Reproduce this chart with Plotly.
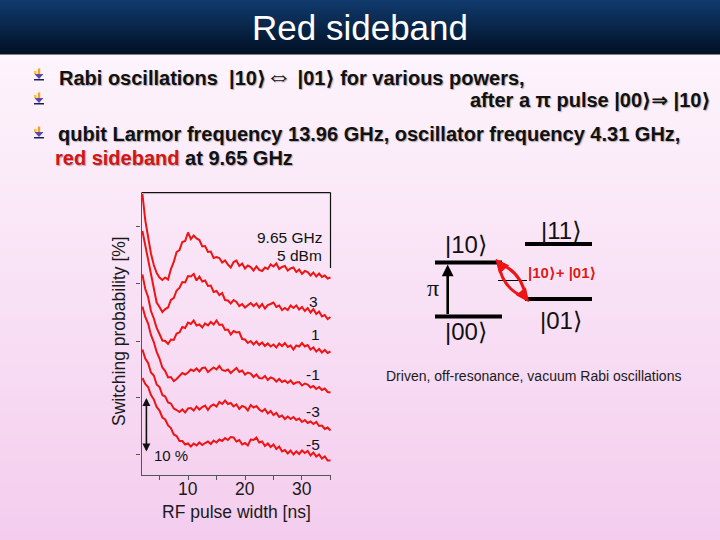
import plotly.graph_objects as go

# ---------------- data ----------------
pulse_ns = [2.0, 2.5, 3.0, 3.5, 4.0, 4.5, 5.0, 5.5, 6.0, 6.5,
            7.0, 7.5, 8.0, 8.5, 9.0, 9.5, 10.0, 10.5, 11.0, 11.5,
            12.0, 12.5, 13.0, 13.5, 14.0, 14.5, 15.0, 15.5, 16.0, 16.5,
            17.0, 17.5, 18.0, 18.5, 19.0, 19.5, 20.0, 20.5, 21.0, 21.5,
            22.0, 22.5, 23.0, 23.5, 24.0, 24.5, 25.0, 25.5, 26.0, 26.5,
            27.0, 27.5, 28.0, 28.5, 29.0, 29.5, 30.0, 30.5, 31.0, 31.5,
            32.0, 32.5, 33.0, 33.5, 34.0, 34.5, 35.0]

# switching probability (%, curves offset vertically as in the figure)
p_5dBm = [56.2, 51.0, 47.6, 44.3, 42.0, 40.4, 39.5, 39.0, 39.5, 39.1,
          41.2, 42.6, 44.6, 45.0, 46.6, 46.8, 48.5, 47.2, 47.9, 47.3,
          47.0, 45.7, 45.8, 44.6, 44.7, 43.4, 43.6, 43.4, 42.5, 42.9,
          42.1, 41.5, 42.6, 42.9, 41.8, 42.3, 41.3, 41.9, 41.6, 40.9,
          41.7, 41.0, 40.8, 41.5, 41.2, 42.1, 41.7, 42.3, 41.2, 41.6,
          41.8, 40.9, 41.3, 41.5, 40.6, 41.1, 40.2, 40.8, 40.6, 39.9,
          40.5, 39.7, 40.3, 39.6, 39.9, 39.3, 39.5]
p_3dBm = [48.8, 45.8, 43.6, 39.8, 37.0, 34.5, 33.6, 32.6, 33.2, 33.5,
          35.0, 35.4, 36.9, 37.4, 38.6, 38.5, 39.8, 39.7, 40.2, 38.9,
          39.7, 38.7, 38.9, 37.8, 37.9, 36.6, 36.8, 36.0, 36.4, 35.0,
          34.9, 34.3, 35.0, 34.6, 33.8, 34.2, 33.5, 33.9, 34.4, 33.8,
          34.3, 33.5, 34.2, 33.3, 34.0, 34.2, 34.5, 33.6, 33.9, 33.0,
          33.4, 33.0, 33.9, 33.4, 33.9, 33.1, 33.6, 32.8, 33.4, 32.5,
          33.2, 32.2, 32.7, 31.7, 32.0, 31.2, 31.6]
p_1dBm = [40.1, 37.2, 35.6, 32.8, 31.3, 29.4, 28.2, 26.9, 26.8, 26.2,
          27.1, 27.0, 28.3, 28.5, 29.6, 29.4, 30.5, 30.2, 30.9, 29.9,
          30.1, 29.5, 30.3, 29.9, 30.6, 30.1, 30.9, 30.0, 30.1, 29.0,
          29.1, 28.1, 28.8, 28.5, 28.6, 27.2, 27.1, 26.4, 26.8, 26.1,
          26.7, 26.0, 26.5, 25.8, 26.3, 25.7, 26.1, 25.5, 26.3, 25.8,
          26.4, 25.6, 25.9, 25.1, 25.9, 25.7, 26.4, 25.7, 26.0, 25.1,
          25.5, 24.7, 25.2, 24.5, 25.0, 24.4, 24.7]
p_m1dBm = [33.7, 31.6, 30.3, 28.0, 26.6, 24.6, 23.3, 21.5, 20.8, 19.5,
           19.6, 18.8, 19.2, 19.9, 20.4, 20.1, 20.5, 21.1, 20.8, 21.3,
           20.7, 21.4, 21.5, 20.6, 21.0, 21.5, 21.1, 21.8, 21.0, 20.8,
           21.1, 20.4, 20.9, 21.4, 20.6, 20.9, 20.1, 20.5, 20.3, 19.6,
           20.1, 19.4, 19.3, 19.8, 19.0, 19.5, 19.3, 18.7, 19.2, 18.6,
           18.9, 18.4, 18.9, 18.2, 18.5, 18.6, 17.9, 18.3, 18.1, 17.5,
           17.8, 17.2, 17.6, 17.0, 17.3, 16.6, 16.5]
p_m3dBm = [25.1, 23.3, 22.4, 20.5, 19.9, 18.1, 17.6, 16.0, 15.7, 14.5,
           14.3, 13.3, 13.0, 12.6, 13.1, 12.5, 13.3, 13.4, 12.9, 13.7,
           13.1, 13.6, 13.9, 13.0, 13.8, 14.1, 13.7, 14.6, 14.2, 14.9,
           14.2, 14.4, 13.7, 14.1, 13.2, 13.8, 13.6, 12.9, 14.0, 13.5,
           13.8, 13.1, 12.7, 13.2, 12.3, 12.8, 12.0, 12.4, 11.6, 11.9,
           11.2, 11.7, 11.2, 11.6, 11.0, 11.3, 10.6, 11.0, 10.4, 10.7,
           10.2, 10.6, 9.8, 9.9, 9.2, 9.5, 8.9]
p_m5dBm = [19.4, 18.2, 17.6, 16.0, 15.1, 13.6, 12.9, 11.5, 11.1, 9.9,
           9.4, 8.1, 7.8, 6.8, 6.8, 6.1, 6.3, 5.7, 6.3, 5.9,
           6.5, 6.0, 6.4, 6.7, 6.2, 6.9, 6.5, 7.1, 6.8, 7.4,
           7.0, 7.6, 7.5, 6.7, 7.0, 6.1, 6.4, 5.9, 7.1, 7.0,
           7.5, 6.5, 6.7, 5.8, 6.3, 5.6, 6.1, 5.2, 5.7, 4.7,
           5.0, 4.3, 4.9, 4.1, 4.7, 4.2, 4.9, 4.4, 4.8, 3.9,
           4.5, 3.7, 4.1, 3.3, 3.7, 2.9, 2.9]

series = [p_5dBm, p_3dBm, p_1dBm, p_m1dBm, p_m3dBm, p_m5dBm]
power_labels = ["3", "1", "-1", "-3", "-5"]
x_tick_vals = [5, 10, 15, 20, 25, 30, 35]
x_label_vals = [10, 20, 30]
x_label_text = ["10", "20", "30"]
y_tick_vals = [4.2, 15.6, 26.8, 38.4, 49.8]

# ---------------- helpers (pixel -> paper) ----------------
W, H = 720, 540
def P(px):
    return px / W
def Q(py):
    return 1 - py / H

SANS = "Liberation Sans, Arial, DejaVu Sans, sans-serif"
RED = "#ee1414"

fig = go.Figure()
for ys in series:
    fig.add_trace(go.Scatter(x=pulse_ns, y=ys, mode="lines",
                             line=dict(color=RED, width=2),
                             hoverinfo="skip", showlegend=False))

shapes = []
# background gradient
N = 60
top_c = (253, 244, 252)
bot_c = (244, 205, 238)
y_start = 54
for i in range(N):
    t = i / (N - 1)
    c = tuple(int(round(top_c[k] + (bot_c[k] - top_c[k]) * t)) for k in range(3))
    y0 = y_start + i * (H - y_start) / N
    y1 = y_start + (i + 1) * (H - y_start) / N + 0.6
    shapes.append(dict(type="rect", xref="paper", yref="paper", layer="below",
                       x0=0, x1=1, y0=Q(y1), y1=Q(y0), line=dict(width=0),
                       fillcolor="rgb(%d,%d,%d)" % c))
# title bar gradient
NT = 27
tb_top = (16, 58, 108)
tb_bot = (2, 17, 38)
for i in range(NT):
    t = i / (NT - 1)
    c = tuple(int(round(tb_top[k] + (tb_bot[k] - tb_top[k]) * t)) for k in range(3))
    y0 = i * 54 / NT
    y1 = (i + 1) * 54 / NT + 0.5
    shapes.append(dict(type="rect", xref="paper", yref="paper", layer="below",
                       x0=0, x1=1, y0=Q(y1), y1=Q(y0), line=dict(width=0),
                       fillcolor="rgb(%d,%d,%d)" % c))

# bullet icons
def bullet(cy, cx=39):
    out = []
    out.append(dict(type="rect", xref="paper", yref="paper", x0=P(cx - 1.2), x1=P(cx + 1.2),
                    y0=Q(cy - 0.5), y1=Q(cy - 6.5), fillcolor="#f2a22a", line=dict(width=0)))
    out.append(dict(type="rect", xref="paper", yref="paper", x0=P(cx - 5), x1=P(cx - 2.5),
                    y0=Q(cy - 1), y1=Q(cy - 4), fillcolor="#f5c040", line=dict(width=0)))
    out.append(dict(type="path", xref="paper", yref="paper",
                    path="M %f,%f L %f,%f L %f,%f Z" % (P(cx - 4.5), Q(cy - 1), P(cx + 4.5), Q(cy - 1),
                                                          P(cx), Q(cy + 4)),
                    fillcolor="#5a4aa8", line=dict(width=0)))
    out.append(dict(type="rect", xref="paper", yref="paper", x0=P(cx - 5), x1=P(cx + 5),
                    y0=Q(cy + 5.5), y1=Q(cy + 4), fillcolor="#1c1c5c", line=dict(width=0)))
    return out

for cy in (75, 99, 133):
    shapes += bullet(cy)

# plot frame (top and partial right border)
shapes.append(dict(type="line", xref="paper", yref="paper", x0=P(141.5), x1=P(330.5),
                   y0=Q(192.6), y1=Q(192.6), line=dict(color="#111111", width=1.4)))
shapes.append(dict(type="line", xref="paper", yref="paper", x0=P(330.5), x1=P(330.5),
                   y0=Q(192.6), y1=Q(268), line=dict(color="#111111", width=1.2)))

# energy level diagram
def hline(x0, x1, y, w=4, color="black"):
    return dict(type="line", xref="paper", yref="paper", x0=P(x0), x1=P(x1),
                y0=Q(y), y1=Q(y), line=dict(color=color, width=w))

shapes.append(hline(435, 502, 262.5))   # |10>
shapes.append(hline(435, 502, 316.5))   # |00>
shapes.append(hline(525, 592, 244))     # |11>
shapes.append(hline(525, 592, 299))     # |01>
shapes.append(hline(498, 527, 280.5, w=1))  # virtual level

# red lens-shaped double arrow
A = (498.5, 263.0)
B = (526.0, 298.0)
def qpath(p0, c, p1):
    return "M %f,%f Q %f,%f %f,%f" % (P(p0[0]), Q(p0[1]), P(c[0]), Q(c[1]), P(p1[0]), Q(p1[1]))
shapes.append(dict(type="path", xref="paper", yref="paper", path=qpath(A, (522, 272), B),
                   line=dict(color=RED, width=3)))
shapes.append(dict(type="path", xref="paper", yref="paper", path=qpath(A, (502, 289), B),
                   line=dict(color=RED, width=3)))
def tri(pts):
    s = "M %f,%f L %f,%f L %f,%f Z" % (P(pts[0][0]), Q(pts[0][1]), P(pts[1][0]), Q(pts[1][1]),
                                        P(pts[2][0]), Q(pts[2][1]))
    return dict(type="path", xref="paper", yref="paper", path=s, fillcolor=RED,
                line=dict(color=RED, width=1))
shapes.append(tri([(496.0, 259.5), (508.5, 265.5), (499.5, 273.0)]))
shapes.append(tri([(528.5, 301.5), (525.5, 288.0), (516.5, 295.0)]))

annotations = []
shadow = "1px 1px 1px rgba(110,110,110,0.55)"
def txt(px, py, text, size, color="#111111", anchor="left", bold=False, family=SANS,
        shadow_=None, **kw):
    font = dict(family=family, size=size, color=color)
    if bold:
        font["weight"] = "bold"
    if shadow_:
        font["shadow"] = shadow_
    d = dict(xref="paper", yref="paper", x=P(px), y=Q(py), text=text, showarrow=False,
             xanchor=anchor, yanchor="middle", font=font)
    d.update(kw)
    annotations.append(d)

nb = "\u00a0"
txt(360, 27, "Red sideband", 35, color="white", anchor="center")
txt(57, 76, "Rabi oscillations" + nb + nb + "|10⟩<span style='font-size:26px'>⇔</span> |01⟩ for various powers,",
    20, bold=True, shadow_=shadow)
txt(713, 100, "after a π pulse |00⟩⇒ |10⟩", 20, bold=True, anchor="right", shadow_=shadow)
txt(56, 134, "qubit Larmor frequency 13.96 GHz, oscillator frequency 4.31 GHz,", 20,
    bold=True, shadow_=shadow)
txt(53, 158, "<span style='color:#d41414'>red sideband</span> at 9.65 GHz", 20, bold=True,
    shadow_=shadow)

# diagram labels
txt(466, 244, "|10⟩", 24, anchor="center")
txt(466, 331, "|00⟩", 24, anchor="center")
txt(561, 230, "|11⟩", 24, anchor="center")
txt(561, 320, "|01⟩", 24, anchor="center")
txt(433, 288, "π", 24, anchor="center", family="Liberation Serif, Times New Roman, serif")
txt(562, 272, "|10⟩+ |01⟩", 15, color="#e01818", anchor="center", bold=True,
    shadow_="0px 0px 2px white")
txt(533, 376, "Driven, off-resonance, vacuum Rabi oscillations", 14, color="#1a1a1a",
    anchor="center")

# vertical pi-pulse arrow
annotations.append(dict(xref="paper", yref="paper", x=P(447.7), y=Q(264.5), ax=0, ay=51,
                        text="", showarrow=True, arrowhead=2, arrowsize=0.9,
                        arrowwidth=2.6, arrowcolor="black"))

# axis titles
txt(236, 512, "RF pulse width [ns]", 17.5, color="#1a1a1a", anchor="center")
annotations.append(dict(xref="paper", yref="paper", x=P(119), y=Q(331),
                        text="Switching probability [%]", showarrow=False, textangle=-90,
                        xanchor="center", yanchor="middle",
                        font=dict(family=SANS, size=17.5, color="#1a1a1a")))

# x tick labels (placed on the data x scale)
for v, t in zip(x_label_vals, x_label_text):
    annotations.append(dict(xref="x", yref="paper", x=v, y=Q(489), text=t, showarrow=False,
                            xanchor="center", yanchor="middle",
                            font=dict(family=SANS, size=17.5, color="#1a1a1a")))

# curve labels (data coordinates)
lab_font = dict(family=SANS, size=15.5, color="#111111")
annotations.append(dict(xref="x", yref="y", x=33.8, y=47.4, text="9.65 GHz", showarrow=False,
                        xanchor="right", yanchor="middle", font=lab_font))
annotations.append(dict(xref="x", yref="y", x=33.8, y=43.8, text="5 dBm", showarrow=False,
                        xanchor="right", yanchor="middle", font=lab_font))
label_pos = [(32.1, 34.7), (32.4, 28.0), (31.9, 20.0), (31.9, 12.6), (31.9, 6.1)]
for lab, (lx, ly) in zip(power_labels, label_pos):
    annotations.append(dict(xref="x", yref="y", x=lx, y=ly, text=lab, showarrow=False,
                            xanchor="center", yanchor="middle", font=lab_font))
annotations.append(dict(xref="x", yref="y", x=3.75, y=3.8, text="10 %", showarrow=False,
                        xanchor="left", yanchor="middle", font=dict(family=SANS, size=15,
                                                                    color="#111111")))
# 10 % scale arrow
annotations.append(dict(xref="x", yref="y", axref="x", ayref="y", x=2.7, y=15.4, ax=2.7, ay=4.4,
                        text="", showarrow=True, arrowhead=2, arrowside="end+start",
                        arrowsize=1, arrowwidth=1.6, arrowcolor="#111111"))

fig.update_layout(
    width=W, height=H, margin=dict(l=0, r=0, t=0, b=0),
    paper_bgcolor="#f8e2f5", plot_bgcolor="rgba(0,0,0,0)",
    shapes=shapes, annotations=annotations, showlegend=False,
    xaxis=dict(domain=[P(141.5), P(331)], range=[1.84, 35.09], showgrid=False, zeroline=False,
               showline=True, linecolor="#555555", linewidth=1.2, ticks="outside", ticklen=4,
               tickcolor="#555555", tickvals=x_tick_vals, showticklabels=False,
               fixedrange=True),
    yaxis=dict(domain=[Q(475), Q(192.5)], range=[0, 56.5], showgrid=False, zeroline=False,
               showline=True, linecolor="#555555", linewidth=1.2, ticks="outside", ticklen=4,
               tickcolor="#555555", tickvals=y_tick_vals, showticklabels=False,
               fixedrange=True),
)

fig.write_html("out.html", config={"displayModeBar": False},
               post_script="document.body.style.margin='0';document.body.style.overflow='hidden';")
